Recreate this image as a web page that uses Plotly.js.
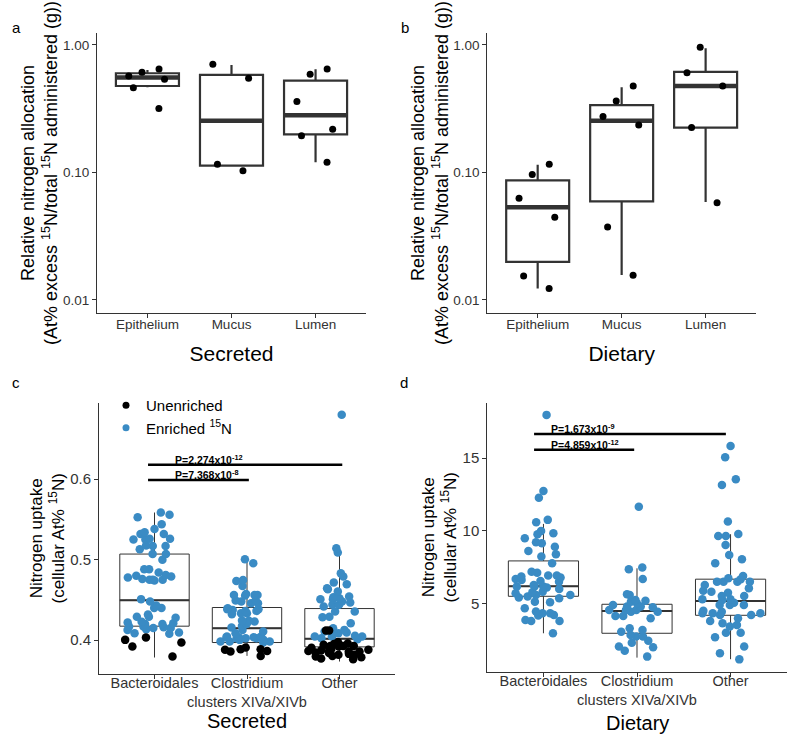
<!DOCTYPE html>
<html>
<head>
<meta charset="utf-8">
<script src="https://cdn.plot.ly/plotly-3.0.1.min.js"></script>
<style>html,body{margin:0;padding:0;background:#fff}#fig{width:800px;height:745px}</style>
</head>
<body>
<div id="fig"></div>
<script>
// ---- values ----
var tissues = ['Epithelium', 'Mucus', 'Lumen'];
var taxa = ['Bacteroidales', 'Clostridium<br>clusters XIVa/XIVb', 'Other'];

// a) secreted 15N, relative allocation per mouse
var secEpithelium = [0.649, 0.611, 0.572, 0.538, 0.463, 0.317];
var secMucus = [0.706, 0.548, 0.116, 0.103];
var secLumen = [0.649, 0.589, 0.360, 0.218, 0.194, 0.1205];
var secQ1 = [0.477, 0.113, 0.199];
var secMed = [0.555, 0.254, 0.281];
var secQ3 = [0.600, 0.582, 0.526];
var secLo = [0.466, 0.113, 0.1205];
var secHi = [0.637, 0.697, 0.645];

// b) dietary 15N
var dietEpithelium = [0.116, 0.0964, 0.0629, 0.0446, 0.0154, 0.0123];
var dietMucus = [0.477, 0.364, 0.275, 0.236, 0.0373, 0.0156];
var dietLumen = [0.959, 0.607, 0.477, 0.225, 0.0578];
var dietQ1 = [0.0199, 0.0593, 0.225];
var dietMed = [0.0535, 0.255, 0.477];
var dietQ3 = [0.0866, 0.337, 0.615];
var dietLo = [0.0123, 0.0157, 0.0586];
var dietHi = [0.115, 0.466, 0.942];

// c) secreted, single-cell uptake (At% 15N)
var cBactEnriched = [0.5585, 0.5557, 0.5528, 0.544, 0.538, 0.534, 0.526, 0.525, 0.5176, 0.532, 0.532, 0.525, 0.526, 0.517, 0.517, 0.513, 0.507, 0.507, 0.500, 0.484, 0.481, 0.488, 0.488, 0.478, 0.476, 0.479, 0.480, 0.474, 0.475, 0.475, 0.475, 0.451, 0.448, 0.443, 0.440, 0.440, 0.432, 0.428, 0.423, 0.429, 0.429, 0.421, 0.420, 0.420, 0.422, 0.417, 0.416, 0.417, 0.415, 0.415, 0.4128, 0.4137, 0.4087, 0.408, 0.4095];
var cBactUnenriched = [0.4004, 0.3971, 0.3922, 0.4033, 0.3797];
var cClosEnriched = [0.5006, 0.4956, 0.4736, 0.4749, 0.4674, 0.4562, 0.4562, 0.4554, 0.4562, 0.4575, 0.4492, 0.4492, 0.4459, 0.448, 0.4459, 0.4385, 0.4364, 0.4364, 0.4376, 0.4385, 0.4397, 0.4335, 0.4323, 0.4335, 0.4244, 0.424, 0.4231, 0.4202, 0.4177, 0.4157, 0.4107, 0.4087, 0.4128, 0.4024, 0.4024, 0.4045, 0.4045, 0.4024, 0.4037, 0.4037, 0.4037, 0.3983, 0.3971, 0.3983, 0.3983, 0.4004, 0.4004];
var cClosUnenriched = [0.3908, 0.3805, 0.3888, 0.3867, 0.388, 0.3888, 0.386];
var cOtherEnriched = [0.680, 0.5142, 0.5089, 0.479, 0.483, 0.4716, 0.4695, 0.4633, 0.4646, 0.4604, 0.4521, 0.4534, 0.4509, 0.4542, 0.4509, 0.4418, 0.4468, 0.4439, 0.4439, 0.448, 0.4356, 0.4286, 0.4356, 0.429, 0.421, 0.4148, 0.4107, 0.4087, 0.4107, 0.4128, 0.4095, 0.4054, 0.4045, 0.4045, 0.4045, 0.4024, 0.4012];
var cOtherUnenriched = [0.412, 0.412, 0.3975, 0.396, 0.3929, 0.3913, 0.3929, 0.3942, 0.3921, 0.3954, 0.3929, 0.3942, 0.3905, 0.389, 0.3859, 0.3846, 0.3859, 0.3867, 0.3859, 0.388, 0.3875, 0.384, 0.3818, 0.3789, 0.3797, 0.383, 0.3818, 0.3805, 0.3772, 0.3764];
var cQ1 = [0.4174, 0.3971, 0.3917];
var cMed = [0.4497, 0.4149, 0.4017];
var cQ3 = [0.507, 0.4406, 0.4393];
var cLo = [0.3785, 0.3805, 0.3735];
var cHi = [0.5586, 0.4998, 0.508];

// d) dietary, single-cell uptake
var dBact = [17.99, 12.74, 12.28, 10.75, 10.59, 9.83, 9.76, 9.99, 9.48, 9.21, 9.14, 8.90, 8.61, 8.22, 8.38, 7.76, 7.18, 7.11, 6.91, 6.77, 6.91, 6.84, 6.49, 6.60, 6.54, 6.68, 6.26, 6.08, 6.15, 6.15, 6.15, 5.99, 5.69, 5.80, 5.76, 5.57, 5.57, 5.46, 5.34, 5.39, 5.07, 5.11, 4.66, 4.43, 4.31, 4.31, 4.15, 4.19, 3.78, 3.78, 3.85, 2.93];
var dClos = [11.66, 7.34, 7.46, 6.67, 5.62, 5.57, 5.23, 5.11, 5.18, 5.0, 4.77, 4.88, 4.77, 4.72, 4.54, 4.42, 4.54, 4.42, 4.54, 3.96, 4.12, 4.12, 3.16, 3.27, 3.04, 2.70, 2.70, 2.81, 2.42, 2.28, 2.01, 1.96, 1.73, 1.32];
var dOther = [15.85, 15.07, 13.55, 13.16, 10.63, 9.64, 9.64, 9.78, 9.02, 8.33, 7.76, 8.03, 6.88, 6.49, 6.65, 6.49, 6.49, 6.72, 6.26, 6.49, 6.03, 5.80, 5.87, 5.73, 5.27, 5.50, 5.27, 5.50, 5.23, 4.88, 5.04, 4.88, 4.88, 4.42, 4.31, 4.19, 4.31, 4.49, 4.31, 4.19, 3.78, 3.96, 3.62, 3.39, 3.50, 2.96, 2.96, 2.66, 2.01, 1.55, 1.13];
var dQ1 = [5.48, 2.93, 4.17];
var dMed = [6.17, 4.47, 5.16];
var dQ3 = [7.92, 4.93, 6.66];
var dLo = [2.93, 1.25, 1.14];
var dHi = [10.47, 7.41, 9.76];

// pairwise tests (category index from / to, bracket height, label)
var sigCFrom = [-0.07, -0.07], sigCTo = [2.03, 1.02], sigCY = [0.618, 0.599];
var sigCText = ['P=2.274x10<sup>-12</sup>', 'P=7.368x10<sup>-8</sup>'];
var sigDFrom = [-0.1, -0.1], sigDTo = [1.95, 0.97], sigDY = [16.68, 15.59];
var sigDText = ['P=1.673x10<sup>-9</sup>', 'P=4.859x10<sup>-12</sup>'];

// ---- styling ----
var FONT = '"Liberation Sans", Arial, Helvetica, sans-serif';
var INK = '#333333';
var BLUE = '#3a8bc4';

function px(x) { return x / 800; }
function py(y) { return 1 - y / 745; }

function statBox(n, q1, med, q3, lo, hi, lw) {
  return {
    type: 'box', xaxis: 'x' + n, yaxis: 'y' + n,
    x: [0, 1, 2], q1: q1, median: med, q3: q3, lowerfence: lo, upperfence: hi,
    width: 0.75, whiskerwidth: 0, boxpoints: false,
    line: {color: INK, width: lw}, fillcolor: 'white',
    hoverinfo: 'skip', showlegend: false
  };
}
function medianBar(n, med, lw) {
  return {
    type: 'box', xaxis: 'x' + n, yaxis: 'y' + n,
    x: [0, 1, 2], q1: med, median: med, q3: med, lowerfence: med, upperfence: med,
    width: 0.75, whiskerwidth: 0, boxpoints: false,
    line: {color: INK, width: lw}, fillcolor: 'rgba(0,0,0,0)',
    hoverinfo: 'skip', showlegend: false
  };
}
function dots(n, pos, vals, color, size, jit) {
  return {
    type: 'box', xaxis: 'x' + n, yaxis: 'y' + n,
    x0: pos, y: vals, width: 0.75, whiskerwidth: 0,
    boxpoints: 'all', jitter: jit, pointpos: 0,
    line: {width: 0, color: 'rgba(0,0,0,0)'}, fillcolor: 'rgba(0,0,0,0)',
    marker: {color: color, size: size, line: {width: 0}},
    hoverinfo: 'y', showlegend: false
  };
}
function bracket(n, x0, x1, y) {
  return {
    type: 'scatter', mode: 'lines', xaxis: 'x' + n, yaxis: 'y' + n,
    x: [x0, x1], y: [y, y], line: {color: '#000', width: 2.5},
    hoverinfo: 'skip', showlegend: false
  };
}

var traces = [
  statBox('', secQ1, secMed, secQ3, secLo, secHi, 2.2),
  medianBar('', secMed, 4.5),
  dots('', 0, secEpithelium, '#000', 7, 0.7),
  dots('', 1, secMucus, '#000', 7, 0.7),
  dots('', 2, secLumen, '#000', 7, 0.7),

  statBox(2, dietQ1, dietMed, dietQ3, dietLo, dietHi, 2.2),
  medianBar(2, dietMed, 4.5),
  dots(2, 0, dietEpithelium, '#000', 7, 0.7),
  dots(2, 1, dietMucus, '#000', 7, 0.7),
  dots(2, 2, dietLumen, '#000', 7, 0.7),

  statBox(3, cQ1, cMed, cQ3, cLo, cHi, 1),
  medianBar(3, cMed, 2),
  dots(3, 0, cBactEnriched, BLUE, 8.5, 1),
  dots(3, 1, cClosEnriched, BLUE, 8.5, 1),
  dots(3, 2, cOtherEnriched, BLUE, 8.5, 1),
  dots(3, 0, cBactUnenriched, '#000', 8.5, 1),
  dots(3, 1, cClosUnenriched, '#000', 8.5, 1),
  dots(3, 2, cOtherUnenriched, '#000', 8.5, 1),

  statBox(4, dQ1, dMed, dQ3, dLo, dHi, 1),
  medianBar(4, dMed, 2),
  dots(4, 0, dBact, BLUE, 8.5, 1),
  dots(4, 1, dClos, BLUE, 8.5, 1),
  dots(4, 2, dOther, BLUE, 8.5, 1)
];
for (var i = 0; i < sigCY.length; i++) traces.push(bracket(3, sigCFrom[i], sigCTo[i], sigCY[i]));
for (var i = 0; i < sigDY.length; i++) traces.push(bracket(4, sigDFrom[i], sigDTo[i], sigDY[i]));

// legend-only entries for panel c
traces.push({type: 'scatter', mode: 'markers', x: [null], y: [null], xaxis: 'x3', yaxis: 'y3',
  name: 'Unenriched', marker: {color: '#000', size: 7}});
traces.push({type: 'scatter', mode: 'markers', x: [null], y: [null], xaxis: 'x3', yaxis: 'y3',
  name: 'Enriched <sup>15</sup>N', marker: {color: BLUE, size: 7}});

function axis(extra) {
  var ax = {
    showline: true, linecolor: INK, linewidth: 1,
    ticks: 'outside', ticklen: 4, tickcolor: INK, tickwidth: 1,
    showgrid: false, zeroline: false, fixedrange: true, tickangle: 0
  };
  for (var k in extra) ax[k] = extra[k];
  return ax;
}

var allocTitle = 'Relative nitrogen allocation<br>(At% excess <sup>15</sup>N/total <sup>15</sup>N administered (g))';
var uptakeTitle = 'Nitrogen uptake<br>(cellular At% <sup>15</sup>N)';
var smallTick = {family: FONT, size: 13.5, color: INK};
var bigTick = {family: FONT, size: 15, color: INK};
var catTick = {family: FONT, size: 14.5, color: INK};

var layout = {
  width: 800, height: 745,
  margin: {l: 0, r: 0, t: 0, b: 0},
  paper_bgcolor: 'white', plot_bgcolor: 'white',
  font: {family: FONT, color: '#000'},
  boxmode: 'overlay',
  xaxis: axis({domain: [px(97), px(366)], anchor: 'y', range: [-0.6, 2.6],
    tickvals: [0, 1, 2], ticktext: tissues, tickfont: smallTick, ticklabelstandoff: -5,
    title: {text: 'Secreted', font: {size: 21}, standoff: 15}}),
  yaxis: axis({domain: [py(313), py(33)], anchor: 'x', type: 'log', range: [-2.102, 0.094],
    tickvals: [0.01, 0.1, 1], ticktext: ['0.01', '0.10', '1.00'], tickfont: smallTick,
    title: {text: allocTitle, font: {size: 18}, standoff: 0}}),
  xaxis2: axis({domain: [px(487.3), px(756)], anchor: 'y2', range: [-0.6, 2.6],
    tickvals: [0, 1, 2], ticktext: tissues, tickfont: smallTick, ticklabelstandoff: -5,
    title: {text: 'Dietary', font: {size: 21}, standoff: 15}}),
  yaxis2: axis({domain: [py(313), py(33)], anchor: 'x2', type: 'log', range: [-2.102, 0.094],
    tickvals: [0.01, 0.1, 1], ticktext: ['0.01', '0.10', '1.00'], tickfont: smallTick,
    title: {text: allocTitle, font: {size: 18}, standoff: 0}}),
  xaxis3: axis({domain: [px(99), px(395)], anchor: 'y3', range: [-0.6, 2.6],
    tickvals: [0, 1, 2], ticktext: taxa, tickfont: catTick, ticklabelstandoff: -8}),
  yaxis3: axis({domain: [py(674), py(402.7)], anchor: 'x3', range: [0.358, 0.695],
    tickvals: [0.4, 0.5, 0.6], ticktext: ['0.4', '0.5', '0.6'], tickfont: bigTick,
    title: {text: uptakeTitle, font: {size: 17}, standoff: 1}}),
  xaxis4: axis({domain: [px(487.3), px(786.7)], anchor: 'y4', range: [-0.6, 2.6],
    tickvals: [0, 1, 2], ticktext: taxa, tickfont: catTick, ticklabelstandoff: -8}),
  yaxis4: axis({domain: [py(671.7), py(402.7)], anchor: 'x4', range: [0.28, 18.83],
    tickvals: [5, 10, 15], ticktext: ['5', '10', '15'], tickfont: bigTick,
    title: {text: uptakeTitle, font: {size: 17}, standoff: 1}}),
  showlegend: true,
  legend: {x: px(106), y: py(389), xanchor: 'left', yanchor: 'top',
    bgcolor: 'rgba(0,0,0,0)', font: {size: 15}, tracegroupgap: 0},
  annotations: []
};

var letters = [['a', 16, 28], ['b', 405, 28], ['c', 16, 382], ['d', 404, 382]];
letters.forEach(function (l) {
  layout.annotations.push({text: l[0], xref: 'paper', yref: 'paper', x: px(l[1]), y: py(l[2]),
    xanchor: 'center', yanchor: 'middle', showarrow: false, font: {size: 15}});
});
// bottom-row x titles sit tighter under the two-line tick labels than Plotly allows
layout.annotations.push({text: 'Secreted', xref: 'x3', yref: 'paper', x: 1, y: py(721),
  xanchor: 'center', yanchor: 'middle', showarrow: false, font: {size: 20}});
layout.annotations.push({text: 'Dietary', xref: 'x4', yref: 'paper', x: 1, y: py(723),
  xanchor: 'center', yanchor: 'middle', showarrow: false, font: {size: 20}});
for (var i = 0; i < sigCY.length; i++) {
  layout.annotations.push({text: '<b>' + sigCText[i] + '</b>', xref: 'x3', yref: 'y3',
    x: 0.2, y: sigCY[i], xanchor: 'left', yanchor: 'bottom', yshift: -3,
    showarrow: false, font: {size: 10.5}});
}
for (var i = 0; i < sigDY.length; i++) {
  layout.annotations.push({text: '<b>' + sigDText[i] + '</b>', xref: 'x4', yref: 'y4',
    x: 0.06, y: sigDY[i], xanchor: 'left', yanchor: 'bottom', yshift: -3,
    showarrow: false, font: {size: 10.5}});
}

Plotly.newPlot('fig', traces, layout, {displayModeBar: false, staticPlot: true});
</script>
</body>
</html>
